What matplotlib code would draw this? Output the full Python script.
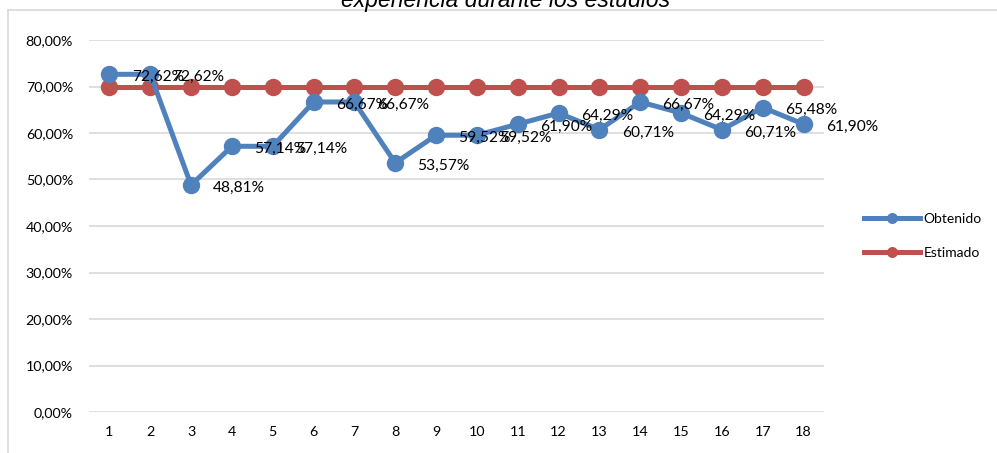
import matplotlib

matplotlib.use("Agg")
import matplotlib.pyplot as plt
from matplotlib.lines import Line2D

plt.rcParams["font.family"] = ["Lato", "DejaVu Sans"]
BLUE, RED, GRID = "#4f81bd", "#c0504d", "#d9d9d9"

# data
steps = list(range(1, 19))
obtenido = [72.62, 72.62, 48.81, 57.14, 57.14, 66.67, 66.67, 53.57, 59.52,
            59.52, 61.90, 64.29, 60.71, 66.67, 64.29, 60.71, 65.48, 61.90]
estimado = [70.0] * 18
y_ticks = [0, 10, 20, 30, 40, 50, 60, 70, 80]
title = "experiencia durante los estudios"


def pct(v):
    return f"{v:.2f}%".replace(".", ",")


fig = plt.figure(figsize=(9.97, 4.53), dpi=100)
ax = fig.add_axes([89 / 997, 1 - 412 / 453, (824 - 89) / 997, (412 - 40) / 453])

ax.plot(steps, obtenido, color=BLUE, lw=3.6, marker="o", ms=11.5, label="Obtenido",
        zorder=4)
ax.plot(steps, estimado, color=RED, lw=3.6, marker="o", ms=11.5, label="Estimado",
        zorder=3)

for x, v in zip(steps, obtenido):
    ax.annotate(pct(v), (x, v), xytext=(16, -2), textcoords="offset points",
                ha="left", va="center", fontsize=11.2, color="#000000", zorder=6)

ax.set_xlim(0.5, 18.5)
ax.set_ylim(0, 80)
ax.set_yticks(y_ticks, [pct(v) for v in y_ticks])
ax.set_xticks(steps, [str(s) for s in steps])
ax.tick_params(length=0, labelsize=10.3, colors="#000000")
ax.tick_params(axis="y", pad=11.5)
ax.tick_params(axis="x", pad=10)
ax.grid(axis="y", color=GRID, lw=1.2)
ax.set_axisbelow(True)
for s in ax.spines.values():
    s.set_visible(False)

fig.legend(handles=ax.get_lines(), loc="center left",
           bbox_to_anchor=(864 / 997, 1 - 236 / 453), frameon=False,
           fontsize=10, handlelength=4.0, handletextpad=0.3, labelspacing=1.6,
           borderpad=0, borderaxespad=0, markerscale=0.6)

# outer chart frame (cropped on the right and bottom)
fig.add_artist(Line2D([8 / 997, 8 / 997], [0, 1 - 10 / 453], color=GRID, lw=1.2,
                      transform=fig.transFigure))
fig.add_artist(Line2D([8 / 997, 1], [1 - 10 / 453, 1 - 10 / 453], color=GRID,
                      lw=1.2, transform=fig.transFigure))

fig.text(506 / 997, 1 - 7 / 453, title, ha="center", va="baseline", fontsize=16.5,
         style="italic", family="Liberation Sans")

fig.savefig("out.png", dpi=100)
